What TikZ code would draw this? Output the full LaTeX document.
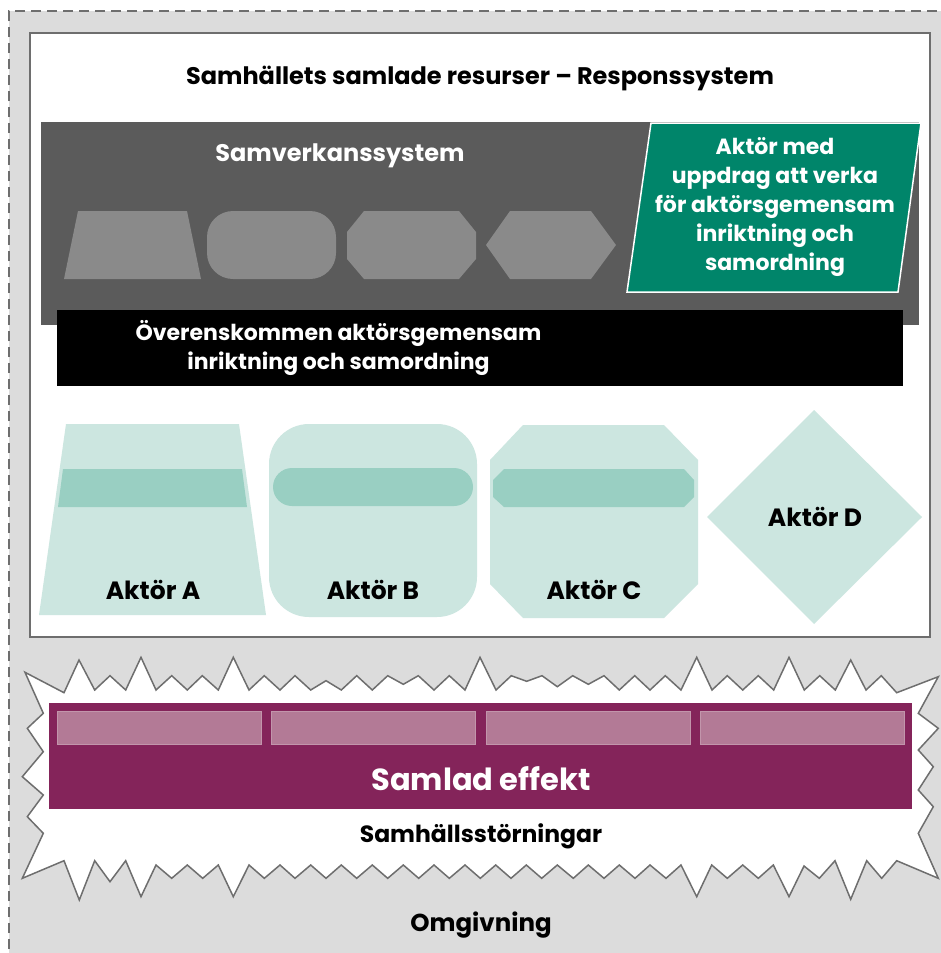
\documentclass[tikz,border=0pt]{standalone}
\usepackage{fontspec}
\setmainfont{Poppins}
\definecolor{bggrey}{HTML}{DCDCDC}
\definecolor{bordergrey}{HTML}{6E6E6E}
\definecolor{darkgrey}{HTML}{5B5B5B}
\definecolor{shapegrey}{HTML}{8A8A8A}
\definecolor{teal}{HTML}{00856A}
\definecolor{lightgreen}{HTML}{CCE6E0}
\definecolor{bandgreen}{HTML}{99CFC2}
\definecolor{plum}{HTML}{84245A}
\definecolor{lightplum}{HTML}{B37A96}
\tikzset{
  lbl/.style={font=\fontsize{22}{29}\selectfont\bfseries, inner sep=0pt, align=center},
  actorlbl/.style={lbl, font=\fontsize{25}{29}\selectfont\bfseries},
  headlbl/.style={lbl, font=\fontsize{24}{28}\selectfont\bfseries},
  actorfill/.style={fill=lightgreen, draw=none},
  bandfill/.style={fill=bandgreen, draw=none},
  greyshape/.style={fill=shapegrey, draw=none},
  barfill/.style={fill=lightplum, draw=lightplum!80!white, line width=0.8pt},
}
\begin{document}
\begin{tikzpicture}[x=1pt,y=-1pt]
\useasboundingbox (0,0) rectangle (940,953);
\fill[white] (0,0) rectangle (940,953);
% outer environment
\fill[bggrey] (9,11) rectangle (950,965);
\draw[bordergrey, line width=1.5pt, dash pattern=on 10pt off 6pt] (9,965) -- (9,11) -- (950,11);
% response system box
\draw[bordergrey, fill=white, line width=1.5pt] (30,33) rectangle (930,637);
\node[headlbl] (title) at (480,78) {Samhällets samlade resurser – Responssystem};
% samverkanssystem
\fill[darkgrey] (41,122) rectangle (919,325);
\node[headlbl, text=white] (samv) at (340,156) {Samverkanssystem};
\fill[greyshape] (78,211) -- (187,211) -- (201,279) -- (64,279) -- cycle;
\fill[greyshape, rounded corners=26pt] (207,211) rectangle (336,279);
\fill[greyshape] (364,211) -- (459,211) -- (476,232) -- (476,259) -- (459,279) -- (364,279) -- (347,259) -- (347,232) -- cycle;
\fill[greyshape] (510,211) -- (591,211) -- (616,245) -- (591,279) -- (510,279) -- (486,245) -- cycle;
% green actor
\draw[fill=teal, draw=white, line width=1.5pt] (651,123) -- (921,123) -- (898,292) -- (627,292) -- cycle;
\node[lbl, text=white] (uppdrag) at (775,207) {Aktör med\\uppdrag att verka\\för aktörsgemensam\\inriktning och\\samordning};
% black band
\fill[black] (57,310) rectangle (903,386);
\node[lbl, text=white] (overens) at (338.5,348) {Överenskommen aktörsgemensam\\inriktning och samordning};
% actors
\fill[actorfill] (66,424) -- (239,424) -- (266,615) -- (39,615) -- cycle;
\fill[bandfill] (63,469) -- (242,469) -- (247,507) -- (58,507) -- cycle;
\node[actorlbl] (aktorA) at (153,590) {Aktör A};
\fill[actorfill, rounded corners=40pt] (269,424) rectangle (477,617);
\fill[bandfill, rounded corners=19pt] (273,468) rectangle (473,506);
\node[actorlbl] (aktorB) at (373,590) {Aktör B};
\fill[actorfill] (523,425) -- (664,425) -- (698,460) -- (698,584) -- (664,618) -- (523,618) -- (490,584) -- (490,460) -- cycle;
\fill[bandfill] (504,469) -- (684,469) -- (694,480) -- (694,497) -- (684,507) -- (504,507) -- (493,497) -- (493,480) -- cycle;
\node[actorlbl] (aktorC) at (594,590) {Aktör C};
\fill[actorfill] (814,410) -- (922,517) -- (814,624) -- (707,517) -- cycle;
\node[actorlbl] (aktorD) at (815,517) {Aktör D};
% starburst
\draw[fill=white, draw=bordergrey, line width=1.5pt, line join=miter]
 (25,672.3) -- (64,692.7) -- (79,660) -- (94.7,690) -- (110,675.7) -- (125.7,690) -- (141,657.3) -- (156,690) -- (171.7,675.7) -- (187.3,690) -- (202.3,675.7) -- (218.3,690) -- (233.3,657.3) -- (249,690) -- (264.3,675.7) -- (280,690) -- (295,675.7) -- (310.7,690) -- (326,680.7) -- (341.3,690) -- (356.7,675.7) -- (372.3,690) -- (387.7,675.7) -- (403.3,684.3) -- (418.3,675.7) -- (434,690) -- (449.3,675.7) -- (465,690) -- (480,657.3) -- (496,690) -- (511.3,675.7) -- (526.7,681.3) -- (542,675.7) -- (557.3,686.7) -- (572.7,675.7) -- (588.3,684.3) -- (604,675.7) -- (619.3,690) -- (634.7,675.7) -- (650,690) -- (665.3,675.7) -- (681,690) -- (696.7,657.3) -- (712,690) -- (727.3,675.7) -- (742.7,690) -- (758.3,675.7) -- (773.7,690) -- (789,657.3) -- (804.3,690) -- (819.7,675.7) -- (835.3,690) -- (850.7,660) -- (866,690) -- (881.3,675.7) -- (896.7,692.7) -- (938.3,676.7)
 -- (918.3,713.3) -- (938.3,728.3) -- (918.3,750) -- (933.3,766.7) -- (918.3,790) -- (933.3,806.7) -- (918.3,833.3) -- (938.3,878.3)
 -- (896.7,860.7) -- (881.7,878.3) -- (866.7,860.7) -- (850.7,899.3) -- (835,860.7) -- (819.3,878.3) -- (804,866) -- (789,896.7) -- (773.3,865) -- (758.3,878.3) -- (742.7,865) -- (727.3,878.3) -- (711.7,865) -- (696.7,896.7) -- (681,865) -- (666,878.3) -- (650,865) -- (635,878.3) -- (619.3,865) -- (604,878.3) -- (588.3,865) -- (573.3,878.3) -- (557.3,865) -- (541.7,878.3) -- (526.3,865) -- (511,878.3) -- (495.7,865) -- (480.3,878.3) -- (465,865) -- (449.3,878.3) -- (434,865) -- (418.7,878.3) -- (403.3,865) -- (387.7,878.3) -- (372.3,865) -- (356.7,878.3) -- (341.3,865) -- (326,878.3) -- (310.7,865) -- (295,878.3) -- (280,865) -- (264.3,878.3) -- (249,865) -- (233.3,896.7) -- (218.3,865) -- (202.7,878.3) -- (187.3,865) -- (171.7,878.3) -- (156,865) -- (141,896.7) -- (125.7,860.7) -- (110,881.7) -- (94.7,860.7) -- (79.3,900) -- (64,860.7) -- (22.3,878.3)
 -- (43.3,833.3) -- (27.3,816.7) -- (43.3,795) -- (22.3,776.7) -- (43.3,751.7) -- (27.3,728.3) -- (43.3,713.3) -- cycle;
% samlad effekt
\fill[plum] (49.3,703.3) rectangle (911.7,809.3);
\draw[barfill] (57,711.7) rectangle (261,744.3);
\draw[barfill] (271,711.7) rectangle (475,744.3);
\draw[barfill] (486,711.7) rectangle (690,744.3);
\draw[barfill] (700,711.7) rectangle (904,744.3);
\node[lbl, text=white, font=\fontsize{30.5}{34}\selectfont\bfseries] (effekt) at (481,779) {Samlad effekt};
\node[lbl, font=\fontsize{23.5}{27}\selectfont\bfseries] (storn) at (481,836) {Samhällsstörningar};
\node[lbl, font=\fontsize{24.5}{28}\selectfont\bfseries] (omg) at (481,925) {Omgivning};
\end{tikzpicture}
\end{document}
